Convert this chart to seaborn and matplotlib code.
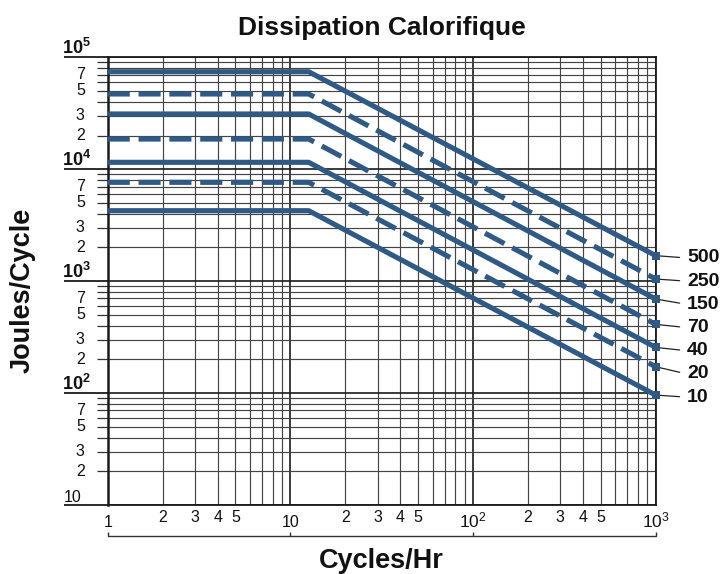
import numpy as np
import pandas as pd
import matplotlib
matplotlib.use("Agg")
import matplotlib.pyplot as plt
import seaborn as sns
from matplotlib.transforms import blended_transform_factory
from matplotlib.ticker import LogLocator, NullFormatter

# ---------------- data ----------------
series_labels = ["500", "250", "150", "70", "40", "20", "10"]
series_dashed = [False, True, False, True, False, True, False]
plateau_joules = [74300, 47000, 31150, 18600, 11530, 7640, 4260]
end_joules = [1690, 1045, 692, 411, 256, 172, 96]
x_cycles = [1, 12.6, 1000]          # start, knee, end (cycles/hr)

x_major_ticks = [1, 10, 100, 1000]
x_major_labels = ["1", "10", "$10^2$", "$10^3$"]
x_minor_ticks = [2, 3, 4, 5, 20, 30, 40, 50, 200, 300, 400, 500]
x_minor_labels = ["2", "3", "4", "5"] * 3
y_major_ticks = [10, 100, 1000, 10000, 100000]
y_major_labels = ["10", r"$\mathbf{10^2}$", r"$\mathbf{10^3}$", r"$\mathbf{10^4}$", r"$\mathbf{10^5}$"]
y_minor_ticks = [20, 30, 50, 70, 200, 300, 500, 700, 2000, 3000, 5000, 7000,
                 20000, 30000, 50000, 70000]
y_minor_labels = ["2", "3", "5", "7"] * 4

title = "Dissipation Calorifique"
xlabel = "Cycles/Hr"
ylabel = "Joules/Cycle"

# ---------------- style ----------------
sns.set_theme(style="white")
plt.rcParams["font.family"] = ["Liberation Sans", "DejaVu Sans"]
plt.rcParams["mathtext.fontset"] = "custom"
plt.rcParams["mathtext.rm"] = "Liberation Sans"
plt.rcParams["mathtext.bf"] = "Liberation Sans:bold"
plt.rcParams["mathtext.it"] = "Liberation Sans:italic"

line_color = "#2f5a86"
W, H = 723, 574
fig = plt.figure(figsize=(W / 100, H / 100), dpi=100)
ax_l, ax_r, ax_t, ax_b = 107.7, 655.7, 57.3, 505.0
ax = fig.add_axes([ax_l / W, 1 - ax_b / H, (ax_r - ax_l) / W, (ax_b - ax_t) / H])

rows = []
for lab, p, e in zip(series_labels, plateau_joules, end_joules):
    for xv, yv in zip(x_cycles, [p, p, e]):
        rows.append({"cycles": xv, "joules": yv, "series": lab})
df = pd.DataFrame(rows)

dashes = {lab: ((4.3, 1.7) if d else "") for lab, d in zip(series_labels, series_dashed)}
palette = {lab: line_color for lab in series_labels}

sns.lineplot(data=df, x="cycles", y="joules", hue="series", style="series",
             hue_order=series_labels, style_order=series_labels,
             palette=palette, dashes=dashes, sort=False, estimator=None,
             linewidth=3.7, legend=False, ax=ax, zorder=5)
for ln in ax.get_lines():
    ln.set_clip_on(False)
    ln.set_dash_capstyle("butt")
    ln.set_solid_capstyle("butt")

ends = pd.DataFrame({"cycles": [x_cycles[-1]] * len(end_joules), "joules": end_joules})
sns.scatterplot(data=ends, x="cycles", y="joules", marker="s", s=36,
                color=line_color, edgecolor=line_color, linewidth=0, ax=ax, zorder=6)
for c in ax.collections:
    c.set_clip_on(False)

ax.set_xscale("log")
ax.set_yscale("log")
ax.set_xlim(1, 1000)
ax.set_ylim(10, 100000)
ax.set_xlabel("")
ax.set_ylabel("")

ax.yaxis.set_major_locator(LogLocator(base=10, numticks=10))
ax.yaxis.set_minor_locator(LogLocator(base=10, subs=np.arange(2, 10), numticks=40))
ax.xaxis.set_major_locator(LogLocator(base=10, numticks=10))
ax.xaxis.set_minor_locator(LogLocator(base=10, subs=np.arange(2, 10), numticks=40))
ax.yaxis.set_minor_formatter(NullFormatter())
ax.xaxis.set_minor_formatter(NullFormatter())

ax.tick_params(axis="y", which="major", direction="out", length=32, width=1.3,
               color="#1a1a1a", labelleft=False, left=True)
ax.tick_params(axis="y", which="minor", direction="out", length=8, width=0.9,
               color="#333333", labelleft=False, left=True)
ax.tick_params(axis="x", which="both", length=0, labelbottom=False)

ax.grid(True, which="major", color="#1a1a1a", linewidth=1.2)
ax.grid(True, which="minor", color="#444444", linewidth=0.85)
ax.set_axisbelow(True)
for s in ax.spines.values():
    s.set_visible(True)
    s.set_color("#1a1a1a")
    s.set_linewidth(1.3)
ax.spines["left"].set_linewidth(1.8)

ty = blended_transform_factory(ax.transAxes, ax.transData)
tx = blended_transform_factory(ax.transData, ax.transAxes)

# y labels
for v, lab in zip(y_minor_ticks, y_minor_labels):
    ax.annotate(lab, xy=(0, v), xycoords=ty, xytext=(-16.5, 0), textcoords="offset points",
                ha="right", va="center", fontsize=11.5, color="#111111")
for v, lab in zip(y_major_ticks, y_major_labels):
    bold = "mathbf" in lab
    ax.annotate(lab, xy=(-0.084 if bold else -0.081, v), xycoords=ty, xytext=(0, 2.5),
                textcoords="offset points", ha="left", va="baseline",
                fontsize=13 if bold else 11.5,
                fontweight="bold" if bold else "normal", color="#111111")

# x labels
for v, lab in zip(x_minor_ticks, x_minor_labels):
    ax.annotate(lab, xy=(v, 0), xycoords=tx, xytext=(0, -12.2), textcoords="offset points",
                ha="center", va="baseline", fontsize=11.5, color="#111111")
for v, lab in zip(x_major_ticks, x_major_labels):
    ax.annotate(lab, xy=(v, 0), xycoords=tx, xytext=(0, -16), textcoords="offset points",
                ha="center", va="baseline", fontsize=11.5 if "$" not in lab else 12.5,
                color="#111111")

# bracket under x axis
by = -(536 - ax_b) / (ax_b - ax_t)
ax.plot([x_major_ticks[0], x_major_ticks[-1]], [by, by], transform=tx, color="#333333",
        lw=1.0, clip_on=False)
ax.vlines(x_major_ticks, by, by + 4 / (ax_b - ax_t), transform=tx, color="#333333",
          lw=1.0, clip_on=False)

# right-hand series labels with leader lines
lab_top, lab_step = (ax_b - 258) / (ax_b - ax_t), 23.2 / (ax_b - ax_t)
for i, (lab, e) in enumerate(zip(series_labels, end_joules)):
    ax.annotate(lab, xy=(x_cycles[-1], e), xycoords="data",
                xytext=(1.0 + (687 - ax_r) / (ax_r - ax_l), lab_top - i * lab_step),
                textcoords="axes fraction", ha="left", va="center",
                fontsize=14, fontweight="bold", color="#111111",
                arrowprops=dict(arrowstyle="-", color="#222222", lw=0.9,
                                shrinkA=3, shrinkB=3, relpos=(0, 0.5)),
                annotation_clip=False)

ax.set_title(title, fontsize=19, fontweight="bold", pad=16, color="#111111")
fig.text((ax_l + ax_r) / 2 / W, 1 - 568 / H, xlabel, ha="center", va="baseline",
         fontsize=19.5, fontweight="bold", color="#111111")
fig.text(23 / W, 1 - 290 / H, ylabel, ha="center", va="center", rotation=90,
         fontsize=19.5, fontweight="bold", color="#111111")

fig.savefig("out.png", dpi=100)
